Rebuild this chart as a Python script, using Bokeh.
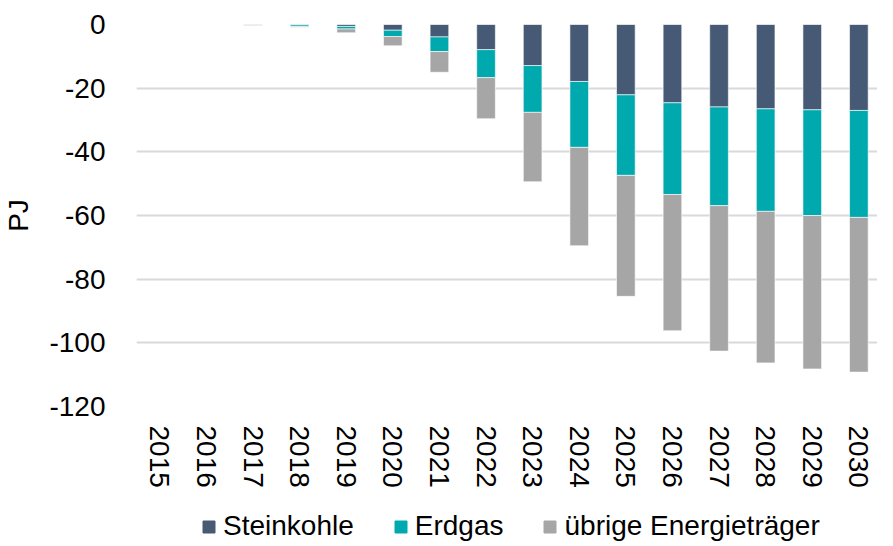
from bokeh.plotting import figure
from bokeh.layouts import column
from bokeh.models import ColumnDataSource, Range1d, FixedTicker, Legend, LegendItem
from bokeh.embed import file_html
from bokeh.resources import INLINE

years = [2015, 2016, 2017, 2018, 2019, 2020, 2021, 2022, 2023, 2024, 2025, 2026, 2027, 2028, 2029, 2030]
steinkohle = [0.0, 0.0, 0.0, -0.1, -0.6, -1.8, -3.9, -7.9, -12.9, -17.9, -22.1, -24.6, -25.9, -26.5, -26.8, -27.0]
erdgas = [0.0, 0.0, 0.0, -0.5, -0.8, -2.0, -4.6, -8.8, -14.7, -20.7, -25.3, -28.8, -31.0, -32.2, -33.2, -33.6]
uebrige = [0.0, 0.0, -0.3, -0.3, -1.2, -2.9, -6.5, -12.9, -21.8, -30.9, -38.0, -42.8, -45.7, -47.6, -48.2, -48.6]
series = ["Steinkohle", "Erdgas", "übrige Energieträger"]
colors = ["#465A75", "#00A9AD", "#A6A6A6"]
y_ticks = [-120, -100, -80, -60, -40, -20, 0]

src = ColumnDataSource(dict(x=years, s=steinkohle, e=erdgas, u=uebrige))

FONT = "Liberation Sans"
FS = "28px"

p = figure(width=877, height=506, output_backend="svg", toolbar_location=None,
           x_range=Range1d(2014.5, 2030.4), y_range=Range1d(-120, 0),
           min_border_top=24, min_border_right=0, min_border_bottom=100, min_border_left=0)
p.outline_line_color = None
p.background_fill_color = "white"
p.border_fill_color = "white"

rs = p.vbar_stack(["s", "e", "u"], x="x", width=0.4, source=src, color=colors,
                  line_color="white", line_width=0.6)

p.xgrid.grid_line_color = None
p.ygrid.grid_line_color = "#D9D9D9"
p.ygrid.grid_line_width = 2

p.yaxis.ticker = FixedTicker(ticks=y_ticks)
p.yaxis.major_label_overrides = {t: str(t) for t in y_ticks}
p.xaxis.ticker = FixedTicker(ticks=years)
p.xaxis.major_label_overrides = {y: str(y) for y in years}
for ax in (p.xaxis[0], p.yaxis[0]):
    ax.axis_line_color = None
    ax.major_tick_line_color = None
    ax.minor_tick_line_color = None
    ax.major_label_text_font = FONT
    ax.major_label_text_font_size = FS
    ax.major_label_text_color = "#000000"
p.xaxis.major_label_orientation = "vertical"
p.xaxis.major_label_standoff = 13
p.yaxis.major_label_standoff = 25
p.yaxis.axis_label = "PJ"
p.yaxis.axis_label_text_font = FONT
p.yaxis.axis_label_text_font_size = FS
p.yaxis.axis_label_text_font_style = "normal"
p.yaxis.axis_label_text_color = "#000000"
p.yaxis.axis_label_standoff = 12

# legend strip (its frame is aligned with the main frame by the column layout)
lf = figure(width=877, height=36, output_backend="svg", toolbar_location=None,
            x_range=Range1d(0, 1), y_range=Range1d(0, 1),
            min_border_top=0, min_border_right=0, min_border_bottom=0, min_border_left=0)
lf.outline_line_color = None
lf.axis.visible = False
lf.grid.visible = False
lrs = [lf.vbar(x=[10], top=[10], width=0.4, color=c) for c in colors]
legend = Legend(items=[LegendItem(label=series[i], renderers=[lrs[i]]) for i in range(3)],
                orientation="horizontal", location=(65, 0),
                label_text_font=FONT, label_text_font_size=FS, label_text_color="#000000",
                glyph_width=15, glyph_height=15, label_standoff=7, spacing=39,
                border_line_color=None, background_fill_alpha=0, padding=0, margin=0)
lf.add_layout(legend, "center")

layout = column(p, lf, spacing=0)
open("out.html", "w").write(file_html(layout, INLINE))
